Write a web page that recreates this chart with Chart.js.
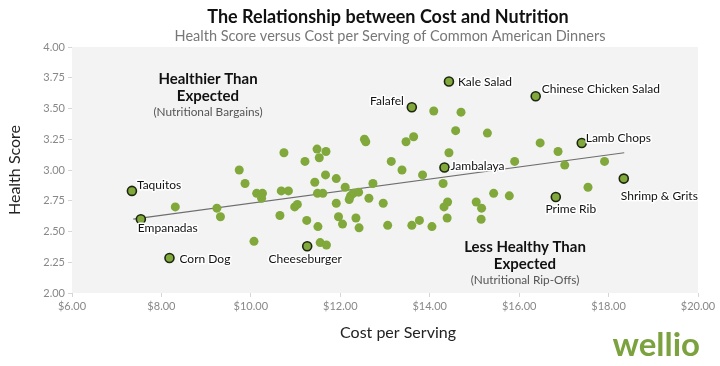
<!DOCTYPE html>
<html>
<head>
<meta charset="utf-8">
<script src="https://cdn.jsdelivr.net/npm/chart.js@4.4.1/dist/chart.umd.min.js"></script>
<style>
html,body{margin:0;padding:0;background:#fff}
</style>
</head>
<body>
<canvas id="myChart" width="720" height="366"></canvas>
<script>
// unlabelled dinners
const costs = [10.74,11.21,9.74,9.87,14.09,14.70,14.58,15.29,12.54,12.57,13.47,13.64,11.48,11.68,11.53,13.14,13.38,14.43,15.90,
  11.67,11.91,11.43,12.11,12.73,13.84,14.30,16.47,16.87,17.02,17.91,17.54,8.31,9.24,9.32,10.07,10.13,10.26,10.24,10.68,10.84,
  10.65,10.98,11.04,11.25,11.49,11.61,12.23,12.29,12.20,12.41,12.64,11.91,12.96,11.50,11.96,12.05,12.35,12.42,13.06,13.60,
  13.77,14.05,14.40,14.32,14.39,15.04,15.16,15.15,15.43,15.78,11.55,11.69];
const scores = [3.14,3.07,3.00,2.89,3.48,3.47,3.32,3.30,3.25,3.23,3.23,3.27,3.17,3.15,3.10,3.07,3.00,3.14,3.07,
  2.96,2.93,2.90,2.86,2.89,2.96,2.89,3.22,3.15,3.04,3.07,2.86,2.70,2.69,2.62,2.42,2.81,2.81,2.77,2.83,2.83,
  2.63,2.70,2.72,2.59,2.81,2.81,2.79,2.81,2.76,2.82,2.77,2.73,2.73,2.54,2.62,2.56,2.61,2.53,2.55,2.55,
  2.59,2.54,2.74,2.70,2.61,2.74,2.69,2.60,2.81,2.79,2.41,2.39];

// labelled dinners
const dinnerNames = ['Taquitos','Empanadas','Corn Dog','Cheeseburger','Falafel','Kale Salad','Jambalaya',
  'Chinese Chicken Salad','Lamb Chops','Shrimp & Grits','Prime Rib'];
const dinnerCosts = [7.34,7.54,8.18,11.26,13.60,14.43,14.33,16.37,17.40,18.34,16.82];
const dinnerScores = [2.83,2.60,2.285,2.38,3.51,3.72,3.02,3.60,3.22,2.93,2.78];

// trend line
const trendCosts = [7.37,18.35];
const trendScores = [2.60,3.14];

const costTicks = [6,8,10,12,14,16,18,20];
const scoreTicks = [2,2.25,2.5,2.75,3,3.25,3.5,3.75,4];

// where each name sits next to its dot: [dx, dy, align]
const labelPlace = [[5,-6,'left'],[-3,9,'left'],[10,1,'left'],[-2,13,'center'],[-8,-6,'right'],[9,1,'left'],
  [6,-1,'left'],[6,-7,'left'],[4,-5,'left'],[-3,18,'left'],[15,12,'center']];

const FONT = 'Lato, "Open Sans", sans-serif';
const green = '#80a83a';

function pts(xs, ys){ return xs.map((x,i)=>({x:x, y:ys[i]})); }

const decor = {
  id:'decor',
  beforeDraw(chart){
    const c = chart.ctx, a = chart.chartArea;
    c.save();
    c.fillStyle = '#f3f3f3';
    c.fillRect(a.left, a.top, a.right-a.left, a.bottom-a.top);
    c.restore();
  },
  afterDatasetsDraw(chart){
    const c = chart.ctx;
    c.save();
    c.textBaseline = 'middle';
    // point names
    const meta = chart.getDatasetMeta(1);
    c.font = '12px ' + FONT;
    c.lineJoin = 'round';
    meta.data.forEach((p,i)=>{
      const pl = labelPlace[i];
      c.textAlign = pl[2];
      c.strokeStyle = '#fff'; c.lineWidth = 3;
      c.strokeText(dinnerNames[i], p.x+pl[0], p.y+pl[1]);
      c.fillStyle = '#111';
      c.fillText(dinnerNames[i], p.x+pl[0], p.y+pl[1]);
    });
    // quadrant notes
    c.textAlign = 'center';
    c.fillStyle = '#111';
    c.font = 'bold 15px ' + FONT;
    c.fillText('Healthier Than', 208, 79);
    c.fillText('Expected', 208, 96);
    c.fillText('Less Healthy Than', 525, 247);
    c.fillText('Expected', 525, 264);
    c.fillStyle = '#555';
    c.font = '11.8px ' + FONT;
    c.fillText('(Nutritional Bargains)', 208, 112);
    c.fillText('(Nutritional Rip-Offs)', 525, 280);
    c.restore();
  },
  afterDraw(chart){
    const c = chart.ctx;
    c.save();
    c.textAlign = 'center';
    c.textBaseline = 'middle';
    c.fillStyle = '#111';
    c.font = 'bold 18px ' + FONT;
    c.fillText('The Relationship between Cost and Nutrition', 388, 17);
    c.fillStyle = '#777';
    c.font = '14.5px ' + FONT;
    c.fillText('Health Score versus Cost per Serving of Common American Dinners', 390, 36);
    c.fillStyle = '#222';
    c.font = '16px ' + FONT;
    c.fillText('Cost per Serving', 398, 333);
    c.translate(15, 170);
    c.rotate(-Math.PI/2);
    c.fillText('Health Score', 0, 0);
    c.restore();
    c.save();
    c.fillStyle = '#7ba23f';
    c.font = 'bold 33px ' + FONT;
    c.textAlign = 'right';
    c.textBaseline = 'alphabetic';
    c.fillText('wellio', 700, 356);
    c.restore();
  }
};

var ctx = document.getElementById('myChart').getContext('2d');
var chart = new Chart(ctx, {
  type: 'scatter',
  data: {
    datasets: [
      {
        label: 'dinners',
        data: pts(costs, scores),
        backgroundColor: green,
        borderColor: green,
        borderWidth: 0,
        pointRadius: 4.5
      },
      {
        label: 'named',
        data: pts(dinnerCosts, dinnerScores),
        backgroundColor: green,
        borderColor: '#1d2610',
        borderWidth: 1.6,
        pointRadius: 4.5
      },
      {
        label: 'trend',
        data: pts(trendCosts, trendScores),
        showLine: true,
        borderColor: '#6e6e6e',
        borderWidth: 1.2,
        pointRadius: 0
      }
    ]
  },
  options: {
    responsive: false,
    animation: false,
    events: [],
    layout: { padding: { top: 47, right: 22, left: 0, bottom: 0 } },
    plugins: { legend: { display: false }, tooltip: { enabled: false } },
    scales: {
      x: {
        type: 'linear', min: 6, max: 20,
        afterBuildTicks: s => { s.ticks = costTicks.map(v => ({value: v})); },
        afterFit: s => { s.height = 73; },
        ticks: { color: '#888', font: { family: FONT, size: 11 }, padding: 3,
          callback: v => '$' + v.toFixed(2) },
        grid: { drawOnChartArea: false, drawTicks: true, tickLength: 4, color: '#d6d6d6' },
        border: { display: false }
      },
      y: {
        min: 2, max: 4,
        afterBuildTicks: s => { s.ticks = scoreTicks.map(v => ({value: v})); },
        afterFit: s => { s.width = 72; },
        ticks: { color: '#888', font: { family: FONT, size: 11 }, padding: 3,
          callback: v => v.toFixed(2) },
        grid: { drawOnChartArea: false, drawTicks: true, tickLength: 4, color: '#d6d6d6' },
        border: { display: false }
      }
    }
  },
  plugins: [decor]
});
</script>
</body>
</html>
